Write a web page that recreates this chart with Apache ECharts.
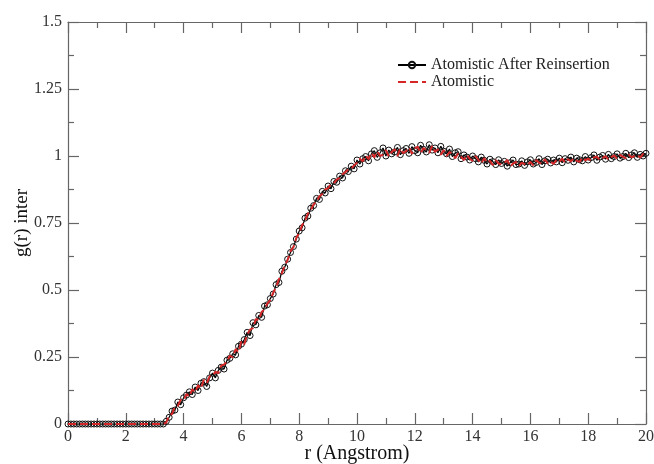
<!DOCTYPE html>
<html>
<head>
<meta charset="utf-8">
<script src="https://cdn.jsdelivr.net/npm/echarts@6/dist/echarts.min.js"></script>
<style>html,body{margin:0;padding:0;background:#fff;}#c{width:654px;height:464px;}</style>
</head>
<body>
<div id="c"></div>
<script>
// sampling step of r (Angstrom)
var rStep = 0.1;
var seriesNames = ['Atomistic After Reinsertion', 'Atomistic'];
var xTicks = [0, 2, 4, 6, 8, 10, 12, 14, 16, 18, 20];
var yTicks = [0, 0.25, 0.5, 0.75, 1, 1.25, 1.5];
// g(r) values, one per 0.1 Angstrom from r = 0 to r = 20
var afterReinsertion = [
  0,0,0,0,0,0,0,0,0,0,
  0,0,0,0,0,0,0,0,0,0,
  0,0,0,0,0,0,0,0,0,0,
  0,0,0,0,0.01,0.025,0.048,0.052,0.082,0.072,
  0.098,0.108,0.12,0.11,0.138,0.125,0.152,0.158,0.14,0.172,
  0.19,0.172,0.2,0.212,0.205,0.238,0.245,0.262,0.258,0.29,
  0.298,0.315,0.342,0.33,0.378,0.37,0.405,0.398,0.44,0.445,
  0.468,0.485,0.52,0.528,0.57,0.585,0.615,0.64,0.662,0.69,
  0.72,0.732,0.768,0.776,0.805,0.815,0.842,0.838,0.868,0.862,
  0.888,0.878,0.905,0.902,0.925,0.918,0.945,0.942,0.962,0.952,
  0.985,0.97,0.99,0.998,0.982,1.008,1.02,0.995,1.012,1.03,
  1.0,1.022,1.008,1.015,1.032,1.005,1.02,1.028,1.01,1.035,
  1.02,1.012,1.04,1.025,1.015,1.042,1.022,1.03,1.012,1.036,
  1.018,1.008,1.026,0.998,1.012,1.016,0.99,1.004,0.996,0.985,
  1.0,0.99,0.978,0.996,0.984,0.97,0.988,0.979,0.968,0.986,
  0.972,0.98,0.962,0.975,0.985,0.968,0.97,0.982,0.965,0.978,
  0.986,0.97,0.976,0.99,0.968,0.982,0.988,0.974,0.985,0.978,
  0.992,0.975,0.99,0.984,0.996,0.978,0.992,0.986,0.982,0.998,
  0.985,0.994,1.004,0.984,0.996,1.002,0.988,1.006,0.99,0.998,
  1.008,0.992,0.998,1.01,0.994,1.004,1.012,0.995,1.006,1.0,
  1.01
];
var atomistic = [
  0,0,0,0,0,0,0,0,0,0,
  0,0,0,0,0,0,0,0,0,0,
  0,0,0,0,0,0,0,0,0,0,
  0,0,0,0,0.005,0.032,0.038,0.065,0.068,0.09,
  0.088,0.112,0.102,0.13,0.118,0.145,0.132,0.165,0.152,0.178,
  0.18,0.195,0.19,0.218,0.222,0.232,0.255,0.248,0.28,0.268,
  0.31,0.298,0.335,0.352,0.358,0.392,0.388,0.418,0.428,0.45,
  0.462,0.49,0.51,0.54,0.562,0.592,0.612,0.645,0.66,0.695,
  0.712,0.742,0.758,0.785,0.798,0.82,0.83,0.85,0.858,0.875,
  0.88,0.895,0.898,0.912,0.918,0.932,0.94,0.95,0.952,0.965,
  0.975,0.99,0.98,1.002,0.988,1.012,0.995,1.018,1.0,1.005,
  1.022,0.998,1.015,1.025,1.0,1.028,1.01,1.018,1.032,1.008,
  1.028,1.035,1.01,1.03,1.022,1.012,1.038,1.015,1.025,1.005,
  1.022,1.0,1.015,1.008,0.992,1.01,0.998,0.985,1.005,0.99,
  0.982,1.0,0.985,0.972,0.992,0.975,0.982,0.966,0.985,0.972,
  0.968,0.975,0.985,0.96,0.972,0.978,0.962,0.975,0.97,0.965,
  0.978,0.965,0.985,0.975,0.97,0.988,0.972,0.98,0.97,0.985,
  0.978,0.99,0.975,0.988,0.98,0.992,0.982,0.978,0.995,0.984,
  0.99,0.982,0.995,0.998,0.985,0.992,1.0,0.986,0.996,1.002,
  0.99,1.004,0.998,0.992,1.006,0.995,1.0,1.005,0.994,1.008,
  0.998
];

function pairs(arr) { return arr.map(function (v, i) { return [+(i * rStep).toFixed(2), v]; }); }

var FONT = 'Liberation Serif';
var axisColor = '#666';
function fmtY(v) { return yTicks.indexOf(v) >= 0 ? String(v) : ''; }
function fmtX(v) { return xTicks.indexOf(v) >= 0 ? String(v) : ''; }

function mirrorAxis(extra) {
  var a = {
    type: 'value',
    axisLine: { show: true, onZero: false, lineStyle: { color: axisColor, width: 1.2 } },
    axisTick: { show: true, inside: true, length: 11, lineStyle: { color: axisColor, width: 1.2 } },
    minorTick: { show: true, splitNumber: 2, length: 6, lineStyle: { color: axisColor, width: 1.2 } },
    axisLabel: { show: false }, splitLine: { show: false }, minorSplitLine: { show: false }
  };
  for (var k in extra) a[k] = extra[k];
  return a;
}

var chart = echarts.init(document.getElementById('c'));
chart.setOption({
  animation: false,
  backgroundColor: '#fff',
  grid: { left: 68, right: 8, top: 22, bottom: 40, outerBoundsMode: 'none', containLabel: false },
  legend: {
    orient: 'vertical', left: 392, top: 52, itemWidth: 28, itemHeight: 8, itemGap: 1,
    textStyle: { fontFamily: FONT, fontSize: 16, color: '#222', lineHeight: 16 },
    data: [
      { name: seriesNames[0] },
      { name: seriesNames[1], itemStyle: { opacity: 0 } }
    ]
  },
  xAxis: [
    mirrorAxis({
      min: 0, max: 20, interval: 2, position: 'bottom',
      name: 'r (Angstrom)', nameLocation: 'middle', nameGap: 20, nameMoveOverlap: false,
      nameTextStyle: { fontFamily: FONT, fontSize: 20, color: '#111' },
      axisLabel: { show: true, fontFamily: FONT, fontSize: 16, color: '#333', margin: 5, formatter: fmtX }
    }),
    mirrorAxis({ min: 0, max: 20, interval: 2, position: 'top' })
  ],
  yAxis: [
    mirrorAxis({
      min: 0, max: 1.5, interval: 0.25, position: 'left',
      name: 'g(r) inter', nameLocation: 'middle', nameGap: 36, nameMoveOverlap: false,
      nameTextStyle: { fontFamily: FONT, fontSize: 19, color: '#111' },
      axisLabel: { show: true, fontFamily: FONT, fontSize: 16, color: '#333', margin: 6, formatter: fmtY }
    }),
    mirrorAxis({ min: 0, max: 1.5, interval: 0.25, position: 'right' })
  ],
  series: [{
    name: seriesNames[0], type: 'line', data: pairs(afterReinsertion),
    symbol: 'circle', symbolSize: 6, showSymbol: true, showAllSymbol: true,
    lineStyle: { color: '#000', width: 1.2 },
    itemStyle: { color: 'rgba(0,0,0,0)', borderColor: '#111', borderWidth: 1 },
    z: 2
  }, {
    name: seriesNames[1], type: 'line', data: pairs(atomistic),
    symbol: 'none', showSymbol: false,
    lineStyle: { color: '#d62728', width: 2, type: [8, 4] },
    itemStyle: { color: '#d62728' },
    z: 3
  }]
});
</script>
</body>
</html>
